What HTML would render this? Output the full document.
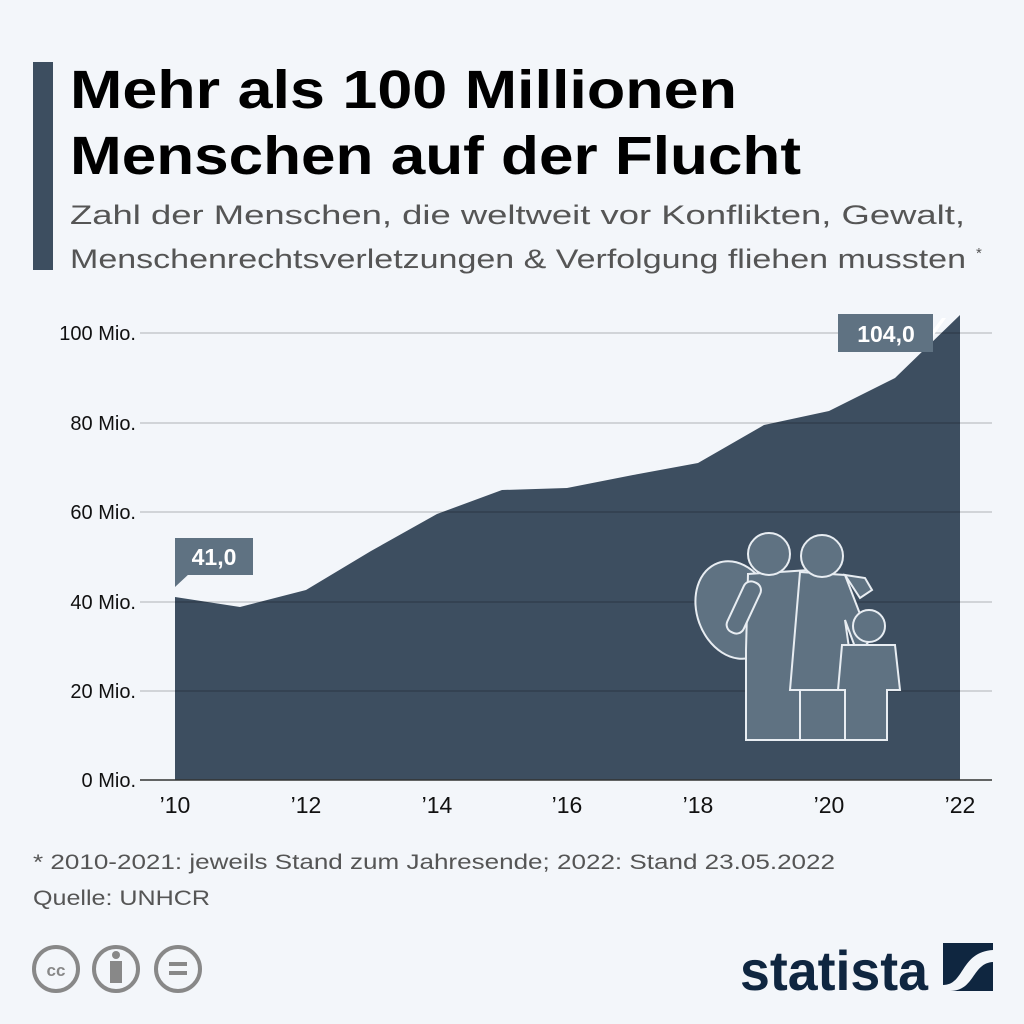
<!DOCTYPE html>
<html><head><meta charset="utf-8"><style>
html,body{margin:0;padding:0;background:#f3f6fa;}
svg{display:block;font-family:"Liberation Sans",sans-serif;}
</style></head><body>
<svg width="1024" height="1024" viewBox="0 0 1024 1024" xmlns="http://www.w3.org/2000/svg">
<rect width="1024" height="1024" fill="#f3f6fa"/>
<rect x="33" y="62" width="20" height="208" fill="#3d4e60"/>
<text x="70" y="108" font-size="54" font-weight="bold" fill="#000" textLength="667" lengthAdjust="spacingAndGlyphs">Mehr als 100 Millionen</text>
<text x="70" y="174" font-size="54" font-weight="bold" fill="#000" textLength="731" lengthAdjust="spacingAndGlyphs">Menschen auf der Flucht</text>
<text x="70" y="224" font-size="27" fill="#555" textLength="895" lengthAdjust="spacingAndGlyphs">Zahl der Menschen, die weltweit vor Konflikten, Gewalt,</text>
<text x="70" y="268" font-size="27" fill="#555" textLength="896" lengthAdjust="spacingAndGlyphs">Menschenrechtsverletzungen &amp; Verfolgung fliehen mussten</text>
<text x="976" y="258" font-size="15" fill="#555">*</text>

<polygon fill="#3d4e60" points="175,780 175,597 240,607 306,590 371,551 437,514 502,490 567,488 633,475 698,463 764,425 829,411 895,378 960,315 960,780"/>
<g stroke="#000" stroke-opacity="0.22" stroke-width="1.3">
<line x1="140" y1="333" x2="992" y2="333"/>
<line x1="140" y1="423" x2="992" y2="423"/>
<line x1="140" y1="512" x2="992" y2="512"/>
<line x1="140" y1="602" x2="992" y2="602"/>
<line x1="140" y1="691" x2="992" y2="691"/>
</g>
<line x1="140" y1="780" x2="992" y2="780" stroke="#333" stroke-width="1.5"/>
<g font-size="20" fill="#111" text-anchor="end">
<text x="136" y="340">100 Mio.</text>
<text x="136" y="430">80 Mio.</text>
<text x="136" y="519">60 Mio.</text>
<text x="136" y="609">40 Mio.</text>
<text x="136" y="698">20 Mio.</text>
<text x="136" y="787">0 Mio.</text>
</g>
<g font-size="23" fill="#111" text-anchor="middle">
<text x="175" y="813">’10</text><text x="306" y="813">’12</text><text x="437" y="813">’14</text>
<text x="567" y="813">’16</text><text x="698" y="813">’18</text><text x="829" y="813">’20</text><text x="960" y="813">’22</text>
</g>
<polygon points="175,587 175,573 190,573" fill="#5f7282"/>
<rect x="175" y="538" width="78" height="37" fill="#5f7282"/>
<text x="214" y="565" font-size="23" font-weight="bold" fill="#fff" text-anchor="middle">41,0</text>
<rect x="838" y="314" width="95" height="38" fill="#5f7282"/>
<polygon points="933,330 942,318 946,318 933,336" fill="#fff"/>
<text x="886" y="342" font-size="23" font-weight="bold" fill="#fff" text-anchor="middle">104,0</text>

<g fill="#5f7282" stroke="#e8edf2" stroke-width="2">
<ellipse cx="735" cy="610" rx="38" ry="50" transform="rotate(-20 735 610)"/>
<path d="M748,574 L810,570 L808,660 L800,740 L746,740 L746,650 Z"/>
<path d="M800,572 L845,575 L870,640 L858,655 L845,620 L855,690 L790,690 Z"/>
<path d="M800,690 L848,690 L848,740 L800,740 Z"/>
<circle cx="769" cy="554" r="21"/>
<circle cx="822" cy="556" r="21"/>
<path d="M845,575 L865,578 L872,590 L860,598 Z"/>
<path d="M842,645 L895,645 L900,690 L887,690 L887,740 L845,740 L845,690 L838,690 Z"/>
<circle cx="869" cy="626" r="16"/>
<rect x="735" y="580" width="18" height="55" rx="8" transform="rotate(25 744 607)"/>
</g>

<g font-size="21" fill="#555">
<text x="33" y="869" textLength="802" lengthAdjust="spacingAndGlyphs">* 2010-2021: jeweils Stand zum Jahresende; 2022: Stand 23.05.2022</text>
<text x="33" y="905" textLength="177" lengthAdjust="spacingAndGlyphs">Quelle: UNHCR</text>
</g>
<g fill="none" stroke="#888" stroke-width="4">
<circle cx="56" cy="969" r="22"/><circle cx="116" cy="969" r="22"/><circle cx="178" cy="969" r="22"/>
</g>
<text x="56" y="976" font-size="17" font-weight="bold" fill="#888" text-anchor="middle">cc</text>
<circle cx="116" cy="955" r="4" fill="#888"/>
<rect x="110" y="961" width="12" height="22" fill="#888"/>
<rect x="169" y="962" width="18" height="4" fill="#888"/><rect x="169" y="971" width="18" height="4" fill="#888"/>
<text x="740" y="990" font-size="56" font-weight="bold" fill="#0f2640" textLength="188" lengthAdjust="spacingAndGlyphs">statista</text>
<rect x="943" y="943" width="50" height="48" fill="#0f2640"/>
<path d="M943,985 C965,985 960,952 993,950 L993,962 C972,963 975,991 950,991 L943,991 Z" fill="#f3f6fa"/>
</svg>
</body></html>
